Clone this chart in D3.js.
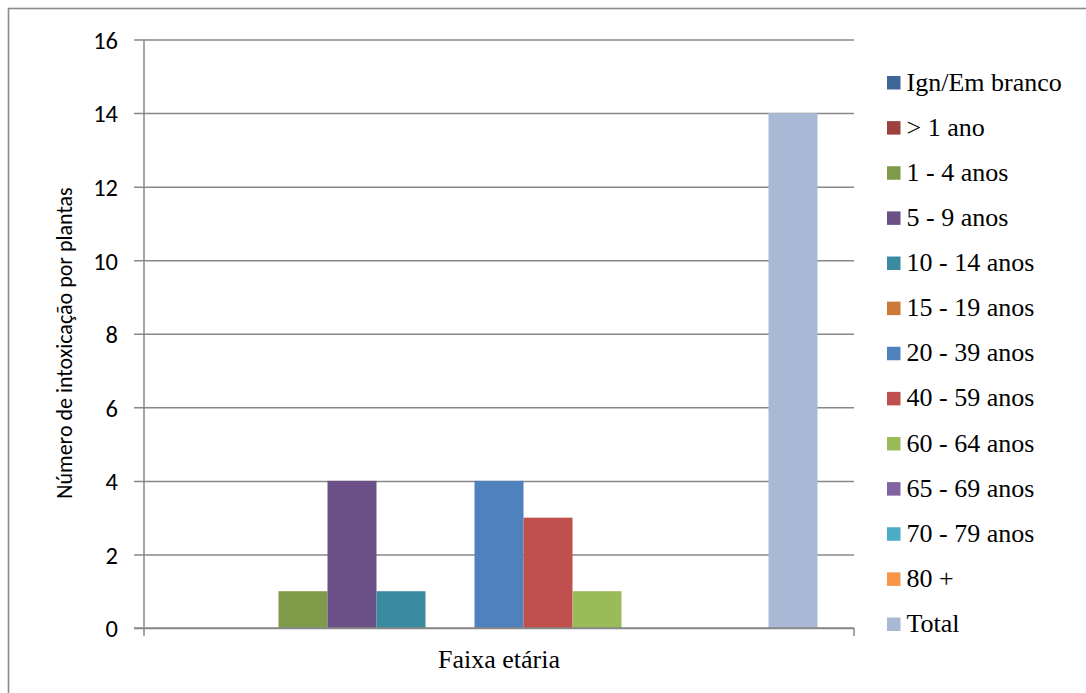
<!DOCTYPE html>
<html>
<head>
<meta charset="utf-8">
<script src="https://cdn.jsdelivr.net/npm/d3@7"></script>
<style>
  html, body { margin: 0; padding: 0; background: #fff; }
  svg { display: block; }
</style>
</head>
<body>
<svg id="chart" width="1086" height="693"></svg>
<script>
// Age groups (one bar each) inside the single category
const categories = ["Faixa etária"];
const seriesNames = [
  "Ign/Em branco", "> 1 ano", "1 - 4 anos", "5 - 9 anos", "10 - 14 anos",
  "15 - 19 anos", "20 - 39 anos", "40 - 59 anos", "60 - 64 anos",
  "65 - 69 anos", "70 - 79 anos", "80 +", "Total"
];
const seriesValues = [0, 0, 1, 4, 1, 0, 4, 3, 1, 0, 0, 0, 14];
const seriesColors = [
  "#3F6699", "#9E413E", "#7F9A48", "#6A5087", "#3A8BA2", "#CC7A38",
  "#4F81BD", "#C0504D", "#9BBB59", "#8064A2", "#4BACC6", "#F79646", "#A9B8D5"
];
const yTicks = [0, 2, 4, 6, 8, 10, 12, 14, 16];
const yTitle = "Número de intoxicação por plantas";

const SERIF = '"Liberation Serif", Tinos, "Times New Roman", serif';
const SANS = 'Carlito, Calibri, Lato, sans-serif';

const svg = d3.select("#chart");
const plot = { left: 144, right: 854, top: 39.5, bottom: 628 };

// outer chart frame
svg.append("rect")
  .attr("x", 8.5).attr("y", 8.5)
  .attr("width", 1100).attr("height", 700)
  .attr("fill", "none").attr("stroke", "#8a8a8a").attr("stroke-width", 1.6);

const y = d3.scaleLinear().domain([0, 16]).range([plot.bottom, plot.top]);
const x0 = d3.scaleBand().domain(categories)
  .range([plot.left, plot.right]).paddingInner(0).paddingOuter(0.0573);
const x1 = d3.scaleBand().domain(seriesNames)
  .range([0, x0.bandwidth()]).padding(0);

// horizontal gridlines + left tick stubs
const yAxis = d3.axisLeft(y).tickValues(yTicks)
  .tickSize(-(plot.right - plot.left)).tickPadding(18);
const gy = svg.append("g")
  .attr("transform", `translate(${plot.left},0)`)
  .call(yAxis)
  .attr("font-family", null).attr("font-size", null);
gy.select(".domain").remove();
gy.selectAll(".tick line")
  .attr("x1", -10)
  .attr("stroke", "#888").attr("stroke-width", 1.5);
gy.selectAll(".tick text")
  .style("font-family", SANS)
  .style("font-size", "24.5px").attr("fill", "#000")
  .attr("x", -26)
  .attr("dy", "0.36em");

// bars
const g = svg.append("g");
categories.forEach(cat => {
  g.selectAll("rect.bar")
    .data(seriesNames.map((n, i) => ({ name: n, value: seriesValues[i], color: seriesColors[i] })))
    .join("rect")
    .attr("class", "bar")
    .attr("x", d => x0(cat) + x1(d.name))
    .attr("width", x1.bandwidth())
    .attr("y", d => y(d.value))
    .attr("height", d => y(0) - y(d.value))
    .attr("fill", d => d.color);
});

// axis lines
svg.append("line")
  .attr("x1", plot.left).attr("x2", plot.left)
  .attr("y1", plot.top).attr("y2", plot.bottom + 8)
  .attr("stroke", "#888").attr("stroke-width", 1.5);
svg.append("line")
  .attr("x1", plot.left - 10).attr("x2", plot.right)
  .attr("y1", plot.bottom).attr("y2", plot.bottom)
  .attr("stroke", "#888").attr("stroke-width", 1.5);
svg.append("line")
  .attr("x1", plot.right).attr("x2", plot.right)
  .attr("y1", plot.bottom).attr("y2", plot.bottom + 8)
  .attr("stroke", "#888").attr("stroke-width", 1.5);

// axis titles
svg.append("text")
  .attr("x", (plot.left + plot.right) / 2).attr("y", 668)
  .attr("text-anchor", "middle")
  .style("font-family", SERIF)
  .style("font-size", "26px").attr("fill", "#000")
  .text(categories[0]);

svg.append("text")
  .attr("transform", "translate(72,343) rotate(-90)")
  .attr("text-anchor", "middle")
  .style("font-family", SANS)
  .style("font-size", "22px").attr("fill", "#000")
  .text(yTitle);

// legend
const legY = d3.scalePoint().domain(seriesNames).range([82.5, 624]);
const leg = svg.append("g").selectAll("g")
  .data(seriesNames.map((n, i) => ({ name: n, color: seriesColors[i] })))
  .join("g")
  .attr("transform", d => `translate(887,${legY(d.name)})`);
leg.append("rect")
  .attr("x", 0).attr("y", -6.5).attr("width", 13.5).attr("height", 13.5)
  .attr("fill", d => d.color);
leg.append("text")
  .attr("x", 19.5).attr("y", 8)
  .style("font-family", SERIF)
  .style("font-size", "26px").attr("fill", "#000")
  .text(d => d.name);
</script>
</body>
</html>
